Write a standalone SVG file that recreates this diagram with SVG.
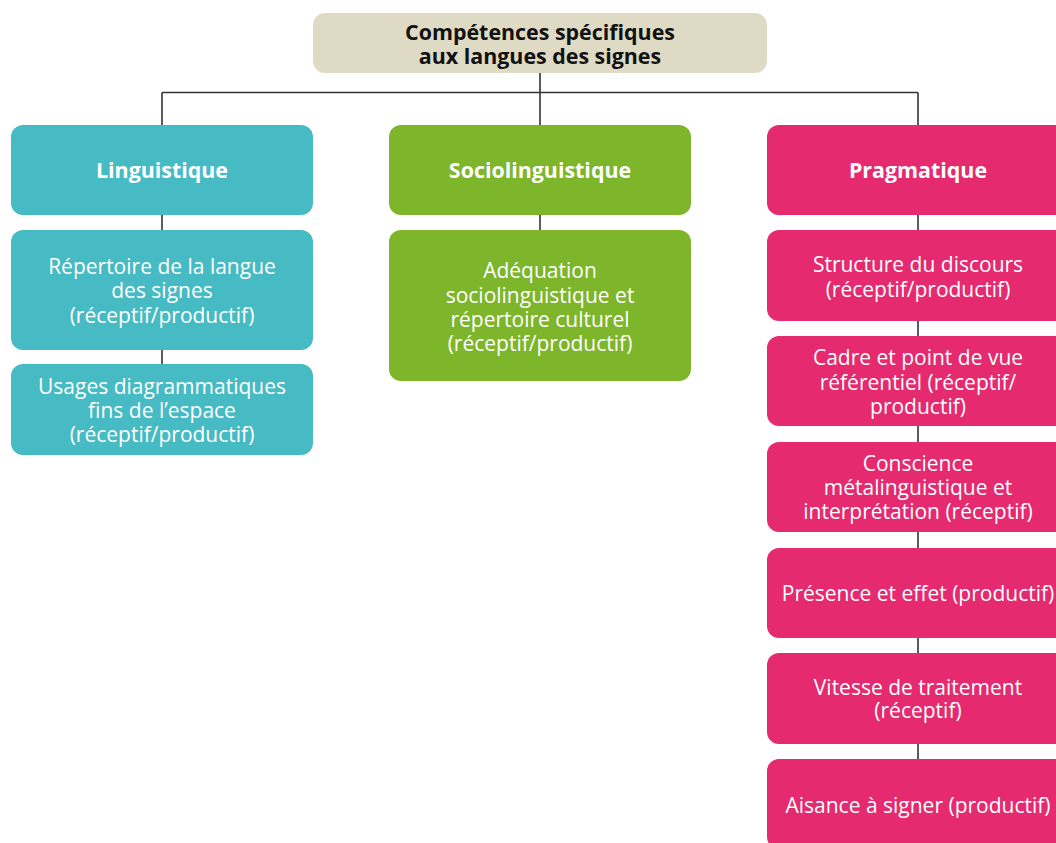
<svg xmlns="http://www.w3.org/2000/svg" width="1056" height="843" viewBox="0 0 1056 843">
<style>
.t{font-family:"Open Sans","Liberation Sans",Arial,sans-serif;font-size:21px;fill:#fff;text-anchor:middle}
.b{font-weight:bold;font-size:21.4px}
.k{fill:#111}
.teal{fill:#46BBC3}
.green{fill:#7DB52B}
.pink{fill:#E52A6F}
.beige{fill:#DFDAC3}
.c{stroke:#333;stroke-width:1.6;fill:none}
</style>
<rect width="1056" height="843" fill="#fff"/>
<g id="connectors">
<path class="c" d="M540 73V125M162 92.5H918M162 92.5V125M918 92.5V125"/>
<path class="c" d="M162 215V230M162 350V364"/>
<path class="c" d="M540 215V230"/>
<path class="c" d="M918 215V230M918 321V336M918 426V442M918 532V548M918 638V653M918 744V759"/>
</g>
<g id="root"><rect class="beige" x="313" y="13" width="454" height="60" rx="12"/>
<text class="t b k" x="540" y="40">Compétences spécifiques</text>
<text class="t b k" x="540" y="64">aux langues des signes</text></g>
<g id="linguistique"><rect class="teal" x="11" y="125" width="302" height="90" rx="12"/>
<text class="t b" x="162" y="178">Linguistique</text></g>
<g id="repertoire"><rect class="teal" x="11" y="230" width="302" height="120" rx="12"/>
<text class="t" x="162" y="274">Répertoire de la langue</text>
<text class="t" x="162" y="298">des signes</text>
<text class="t" x="162" y="323">(réceptif/productif)</text></g>
<g id="usages"><rect class="teal" x="11" y="364" width="302" height="91" rx="12"/>
<text class="t" x="162" y="394">Usages diagrammatiques</text>
<text class="t" x="162" y="418">fins de l’espace</text>
<text class="t" x="162" y="442">(réceptif/productif)</text></g>
<g id="sociolinguistique"><rect class="green" x="389" y="125" width="302" height="90" rx="12"/>
<text class="t b" x="540" y="178">Sociolinguistique</text></g>
<g id="adequation"><rect class="green" x="389" y="230" width="302" height="151" rx="12"/>
<text class="t" x="540" y="278">Adéquation</text>
<text class="t" x="540" y="303">sociolinguistique et</text>
<text class="t" x="540" y="327">répertoire culturel</text>
<text class="t" x="540" y="351">(réceptif/productif)</text></g>
<g id="pragmatique"><rect class="pink" x="767" y="125" width="302" height="90" rx="12"/>
<text class="t b" x="918" y="178">Pragmatique</text></g>
<g id="structure"><rect class="pink" x="767" y="230" width="302" height="91" rx="12"/>
<text class="t" x="918" y="272">Structure du discours</text>
<text class="t" x="918" y="297">(réceptif/productif)</text></g>
<g id="cadre"><rect class="pink" x="767" y="336" width="302" height="90" rx="12"/>
<text class="t" x="918" y="365">Cadre et point de vue</text>
<text class="t" x="918" y="390">référentiel (réceptif/</text>
<text class="t" x="918" y="414">productif)</text></g>
<g id="conscience"><rect class="pink" x="767" y="442" width="302" height="90" rx="12"/>
<text class="t" x="918" y="471">Conscience</text>
<text class="t" x="918" y="495">métalinguistique et</text>
<text class="t" x="918" y="519">interprétation (réceptif)</text></g>
<g id="presence"><rect class="pink" x="767" y="548" width="302" height="90" rx="12"/>
<text class="t" x="918" y="601">Présence et effet (productif)</text></g>
<g id="vitesse"><rect class="pink" x="767" y="653" width="302" height="91" rx="12"/>
<text class="t" x="918" y="695">Vitesse de traitement</text>
<text class="t" x="918" y="718">(réceptif)</text></g>
<g id="aisance"><rect class="pink" x="767" y="759" width="302" height="90" rx="12"/>
<text class="t" x="918" y="813">Aisance à signer (productif)</text></g>
</svg>
